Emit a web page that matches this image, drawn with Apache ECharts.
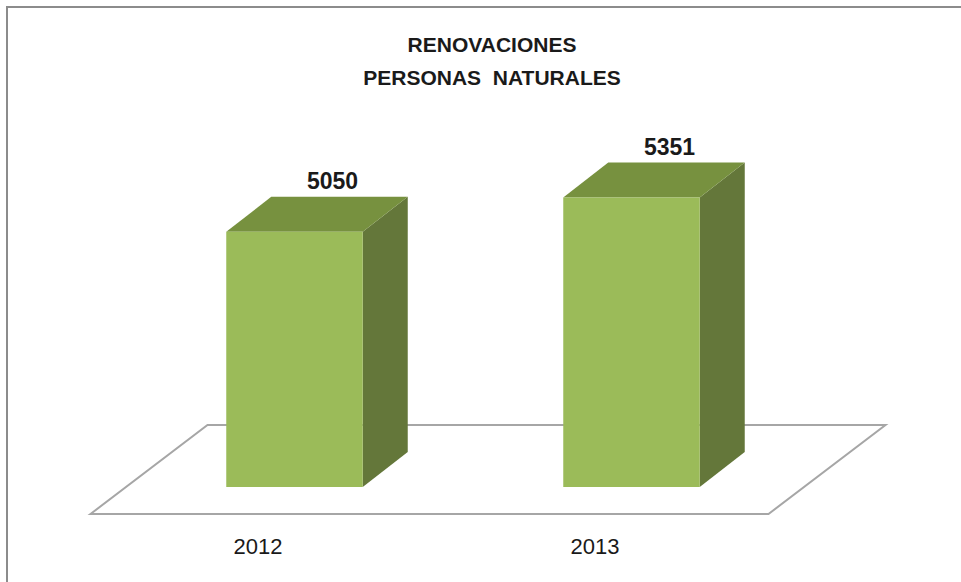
<!DOCTYPE html>
<html>
<head>
<meta charset="utf-8">
<script src="https://cdn.jsdelivr.net/npm/echarts@6/dist/echarts.min.js"></script>
<style>
html,body{margin:0;padding:0;background:#fff;}
#c{width:961px;height:582px;}
</style>
</head>
<body>
<div id="c"></div>
<script>
// ---- data ----
var categories = ['2012', '2013'];
var values = [5050, 5351];
var titleLines = ['RENOVACIONES', 'PERSONAS  NATURALES'];

// ---- style constants ----
var AXIS_MIN = 2800, AXIS_MAX = 6000;
var DEPTH_X = 45, DEPTH_Y = -35;          // bar depth (oblique projection)
var FLOOR_FRONT = [-35.5, 27];            // floor front edge offset from bar base
var FLOOR_BACK = [81.5, -62];             // floor back edge offset from bar base
var BAR_RATIO = 0.405;
var FRONT = '#9bbb59', TOP = '#77913f', SIDE = '#64773a';
var FONT = 'Liberation Sans, Arial, sans-serif';

var chart = echarts.init(document.getElementById('c'), null, {renderer: 'svg'});

function renderFloor(params, api) {
  var cs = params.coordSys;
  var yb = cs.y + cs.height, xl = cs.x, xr = cs.x + cs.width + 4;
  var pts = [
    [xl + FLOOR_FRONT[0], yb + FLOOR_FRONT[1]],
    [xl + FLOOR_BACK[0], yb + FLOOR_BACK[1]],
    [xr + FLOOR_BACK[0], yb + FLOOR_BACK[1]],
    [xr + FLOOR_FRONT[0], yb + FLOOR_FRONT[1]]
  ];
  return {type: 'polygon', shape: {points: pts},
    style: {fill: '#ffffff', stroke: '#a6a6a6', lineWidth: 2}};
}

function renderBar(params, api) {
  var idx = api.value(0), val = api.value(1);
  var top = api.coord([idx, val]);
  var base = api.coord([idx, AXIS_MIN]);
  var w = api.size([1, 0])[0] * BAR_RATIO;
  var x0 = top[0] - w / 2, x1 = top[0] + w / 2;
  var yt = top[1], yb = base[1];
  var front = [[x0, yt], [x1, yt], [x1, yb], [x0, yb]];
  var topF = [[x0, yt], [x0 + DEPTH_X, yt + DEPTH_Y], [x1 + DEPTH_X, yt + DEPTH_Y], [x1, yt]];
  var side = [[x1, yt], [x1 + DEPTH_X, yt + DEPTH_Y], [x1 + DEPTH_X, yb + DEPTH_Y], [x1, yb]];
  return {type: 'group', children: [
    {type: 'polygon', shape: {points: side}, style: {fill: SIDE}},
    {type: 'polygon', shape: {points: topF}, style: {fill: TOP}},
    {type: 'polygon', shape: {points: front}, style: {fill: FRONT}},
    {type: 'text', style: {
      text: String(values[idx]),
      x: top[0] + 38, y: yt + DEPTH_Y - 4,
      textAlign: 'center', textVerticalAlign: 'bottom',
      fontFamily: FONT, fontWeight: 'bold', fontSize: 23,
      fill: '#1a1a1a'}}
  ]};
}

chart.setOption({
  animation: false,
  backgroundColor: '#ffffff',
  title: {
    text: titleLines.join('\n'),
    left: 487, top: 23, textAlign: 'center',
    textStyle: {fontFamily: FONT, fontWeight: 'bold',
      fontSize: 21, lineHeight: 33, color: '#1a1a1a'}
  },
  graphic: [{type: 'rect', shape: {x: 7, y: 7, width: 1100, height: 1100},
    style: {fill: 'none', stroke: '#8c8c8c', lineWidth: 2}, silent: true, z: 100}],
  grid: {left: 126, right: 161, top: 124, bottom: 95},
  xAxis: {type: 'category', data: categories,
    axisLine: {show: false}, axisTick: {show: false},
    axisLabel: {margin: 48, padding: [0, 73, 0, 0], fontSize: 22,
      fontFamily: FONT, color: '#1a1a1a'}},
  yAxis: {type: 'value', min: AXIS_MIN, max: AXIS_MAX, show: false, splitLine: {show: false}},
  series: [
    {type: 'custom', renderItem: renderFloor, data: [[0, AXIS_MIN]], z: 1, silent: true},
    {type: 'custom', renderItem: renderBar, z: 2,
      data: values.map(function (v, i) { return [i, v]; })}
  ]
});
</script>
</body>
</html>
